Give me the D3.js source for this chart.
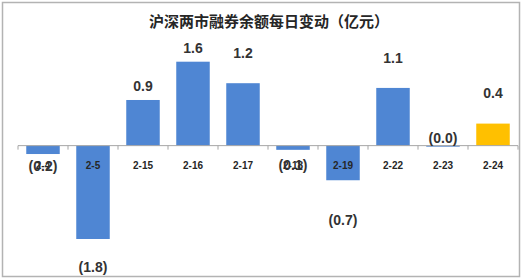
<!DOCTYPE html>
<html>
<head>
<meta charset="utf-8">
<script src="https://cdn.jsdelivr.net/npm/d3@7"></script>
<style>
  body { margin: 0; background: #fff; }
  svg text { font-family: "Liberation Sans", Arial, "Noto Sans CJK SC", sans-serif; }
</style>
</head>
<body>
<div id="chart"></div>
<script>
// data
const categories = ["2-4", "2-5", "2-15", "2-16", "2-17", "2-18", "2-19", "2-22", "2-23", "2-24"];
const values = [-0.16, -1.78, 0.87, 1.6, 1.19, -0.08, -0.66, 1.1, -0.02, 0.42];
const highlight = "2-24";

// label offsets from the bar end (px, + goes down) - hand placed in the original
const labelShift = [12, 28, -14, -14, -30, 15, 40, -30, -9, -30];

const W = 526, H = 280;

const svg = d3.select("#chart").append("svg")
    .attr("width", W)
    .attr("height", H);

// outer frame
svg.append("rect")
    .attr("x", 2.5).attr("y", 2.5)
    .attr("width", 517).attr("height", 274)
    .attr("fill", "none")
    .attr("stroke", "#b3b3b3")
    .attr("stroke-width", 1.5);

svg.append("text")
    .attr("x", 269)
    .attr("y", 27)
    .attr("text-anchor", "middle")
    .style("font-size", "15px")
    .style("font-weight", "bold")
    .style("fill", "#262626")
    .style("font-family", "'Noto Sans CJK SC', sans-serif")
    .text("沪深两市融券余额每日变动（亿元）");

const x = d3.scaleBand()
    .domain(categories)
    .range([18, 518])
    .paddingInner(0.33)
    .paddingOuter(0.165);

const y = d3.scaleLinear()
    .domain([-1.78, 1.6])
    .range([239, 61.7]);

const g = svg.append("g");

g.selectAll(".bar")
    .data(values)
    .enter()
    .append("rect")
    .attr("class", "bar")
    .attr("x", (d, i) => x(categories[i]))
    .attr("width", x.bandwidth())
    .attr("y", d => Math.min(y(0), y(d)))
    .attr("height", d => Math.abs(y(d) - y(0)))
    .attr("fill", (d, i) => categories[i] == highlight ? "#ffc000" : "#4f86d3");

// axis at zero
const axis = g.append("g")
    .attr("transform", "translate(0," + y(0) + ")");
axis.append("line")
    .attr("x1", 18).attr("x2", 518)
    .attr("stroke", "#a6a6a6");
const step = x.step();
axis.selectAll(".tick")
    .data(d3.range(categories.length + 1))
    .enter()
    .append("line")
    .attr("x1", i => 18 + i * step)
    .attr("x2", i => 18 + i * step)
    .attr("y1", 0).attr("y2", 4)
    .attr("stroke", "#a6a6a6");

axis.selectAll(".cat")
    .data(categories)
    .enter()
    .append("text")
    .attr("x", d => x(d) + x.bandwidth() / 2)
    .attr("y", 23)
    .attr("text-anchor", "middle")
    .style("font-size", "10px")
    .style("font-weight", "bold")
    .style("fill", "#262626")
    .text(d => d);

// value labels
const fmt = d3.format(".1f");
g.selectAll(".val")
    .data(values)
    .enter()
    .append("text")
    .attr("x", (d, i) => x(categories[i]) + x.bandwidth() / 2)
    .attr("y", (d, i) => y(d) + labelShift[i])
    .attr("dy", "0.35em")
    .attr("text-anchor", "middle")
    .style("font-size", "14px")
    .style("font-weight", "bold")
    .style("fill", "#333")
    .text(d => d < 0 ? "(" + fmt(-d) + ")" : fmt(d));
</script>
</body>
</html>
